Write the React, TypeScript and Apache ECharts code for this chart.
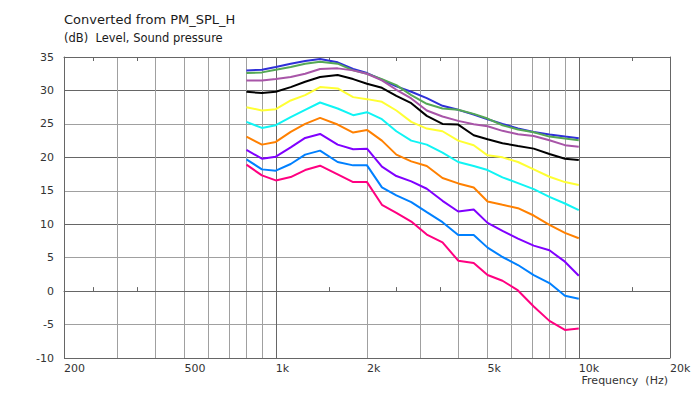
import React, { useEffect, useRef } from "react";
import * as echarts from "echarts";

const FREQS = [800, 900, 1000, 1120, 1250, 1400, 1600, 1800, 2000, 2240, 2500, 2800, 3150, 3550, 4000, 4500, 5000, 5600, 6300, 7100, 8000, 9000, 10000];

const S_BLUE = [33.0, 33.1, 33.5, 34.0, 34.4, 34.7, 34.2, 33.2, 32.6, 31.6, 30.6, 29.8, 28.85, 27.7, 27.1, 26.4, 25.7, 25.0, 24.3, 23.8, 23.4, 23.1, 22.85];
const S_GREEN = [32.6, 32.7, 33.1, 33.5, 34.0, 34.3, 34.0, 33.0, 32.5, 31.7, 30.8, 29.3, 28.0, 27.3, 27.1, 26.5, 25.8, 24.8, 24.15, 23.75, 23.1, 22.8, 22.55];
const S_MAGENTA = [31.5, 31.5, 31.7, 32.0, 32.5, 33.2, 33.3, 33.0, 32.5, 31.5, 30.1, 28.8, 27.0, 26.1, 25.45, 24.95, 24.65, 23.96, 23.46, 23.2, 22.56, 21.82, 21.57];
const S_BLACK = [29.8, 29.6, 29.8, 30.5, 31.3, 32.0, 32.3, 31.7, 31.0, 30.4, 29.2, 28.1, 26.2, 25.0, 24.9, 23.3, 22.7, 22.1, 21.7, 21.3, 20.5, 19.8, 19.6];
const S_YELLOW = [27.5, 27.0, 27.2, 28.5, 29.3, 30.5, 30.3, 29.0, 28.7, 28.3, 27.0, 25.3, 24.3, 23.9, 22.5, 21.8, 20.3, 20.0, 19.3, 18.2, 17.1, 16.3, 15.85];
const S_CYAN = [25.3, 24.4, 24.8, 26.0, 27.1, 28.2, 27.3, 26.3, 26.75, 25.7, 23.9, 22.5, 21.9, 20.7, 19.3, 18.7, 18.1, 17.0, 16.15, 15.25, 14.1, 13.1, 12.1];
const S_ORANGE = [23.1, 21.9, 22.3, 23.8, 25.0, 25.9, 24.9, 23.7, 24.1, 22.5, 20.4, 19.4, 18.7, 16.9, 16.1, 15.5, 13.4, 12.9, 12.4, 11.3, 9.9, 8.7, 7.9];
const S_VIOLET = [21.1, 19.8, 20.1, 21.5, 22.9, 23.5, 21.9, 21.2, 21.3, 18.6, 17.2, 16.4, 15.3, 13.5, 11.9, 12.2, 10.2, 9.0, 7.85, 6.8, 6.1, 4.4, 2.3];
const S_AZURE = [19.7, 18.2, 18.0, 19.0, 20.4, 21.0, 19.3, 18.8, 18.8, 15.5, 14.3, 13.3, 11.8, 10.3, 8.4, 8.4, 6.5, 5.1, 3.9, 2.4, 1.2, -0.7, -1.15];
const S_PINK = [18.9, 17.3, 16.55, 17.05, 18.1, 18.75, 17.45, 16.3, 16.3, 12.9, 11.7, 10.4, 8.45, 7.3, 4.55, 4.2, 2.4, 1.55, 0.1, -2.3, -4.45, -5.8, -5.6];

const SERIES_VALUES = [S_BLUE, S_GREEN, S_MAGENTA, S_BLACK, S_YELLOW, S_CYAN, S_ORANGE, S_VIOLET, S_AZURE, S_PINK];
const SERIES_COLORS = ["#2f2fd8", "#55a855", "#a855a8", "#000000", "#ffff33", "#10f4f4", "#ff8000", "#8000ff", "#0080ff", "#ff0080"];

const X_LABEL_VALUES = [200, 500, 1000, 2000, 5000, 10000, 20000];
const X_LIGHT_GRID = [300, 400, 500, 600, 700, 800, 900, 2000, 3000, 4000, 5000, 6000, 7000, 8000, 9000];
const X_DARK_GRID = [1000, 10000];
const X_MINOR_TICKS = [250, 350, 1500, 2500, 3500, 15000];

const TITLE = "Converted from PM_SPL_H";
const SUBTITLE = "(dB)  Level, Sound pressure";
const X_NAME = "Frequency  (Hz)";

const FONT = "DejaVu Sans";
const DARK = "#666666";
const LIGHT = "#a0a0a0";

export default function App() {
  const ref = useRef<HTMLDivElement>(null);
  useEffect(() => {
    document.body.style.margin = "0";
    const chart = echarts.init(ref.current!, null, { renderer: "svg" });
    const baseLog = {
      type: "log" as const,
      min: 200,
      max: 20000,
      logBase: 10,
      gridIndex: 0,
    };
    const fmt = (v: number) => (v >= 1000 ? `${Math.round(v / 1000)}k` : `${Math.round(v)}`);
    chart.setOption({
      animation: false,
      backgroundColor: "#ffffff",
      grid: {
        left: 64,
        right: 22,
        top: 57,
        bottom: 35,
        show: false,
        containLabel: false,
        outerBoundsMode: "none",
      },
      xAxis: [
        {
          ...baseLog,
          position: "bottom",
          axisLine: { show: true, lineStyle: { color: DARK, width: 1 } },
          axisTick: { show: false, customValues: X_LIGHT_GRID },
          splitLine: { show: true, lineStyle: { color: LIGHT, width: 1 } },
          axisLabel: {
            show: true,
            customValues: X_LABEL_VALUES,
            formatter: fmt,
            align: "left",
            alignMinLabel: "left",
            alignMaxLabel: "left",
            hideOverlap: false,
            margin: 5,
            color: "#333333",
            fontFamily: FONT,
            fontSize: 11,
          },
        },
        {
          ...baseLog,
          position: "bottom",
          axisLine: { show: false },
          axisTick: { show: false, customValues: X_DARK_GRID },
          splitLine: { show: true, lineStyle: { color: DARK, width: 1 } },
          axisLabel: { show: false },
        },
        {
          ...baseLog,
          position: "bottom",
          axisLine: { show: false },
          axisTick: { show: true, inside: true, length: 4, customValues: X_MINOR_TICKS, lineStyle: { color: DARK } },
          splitLine: { show: false },
          axisLabel: { show: false },
        },
        {
          ...baseLog,
          position: "top",
          axisLine: { show: true, lineStyle: { color: DARK, width: 1 } },
          axisTick: { show: true, inside: true, length: 4, customValues: X_MINOR_TICKS, lineStyle: { color: DARK } },
          splitLine: { show: false },
          axisLabel: { show: false },
        },
      ],
      yAxis: [
        {
          type: "value",
          min: -10,
          max: 35,
          interval: 5,
          position: "left",
          axisLine: { show: true, lineStyle: { color: DARK, width: 1 } },
          axisTick: { show: false },
          splitLine: { show: true, lineStyle: { color: LIGHT, width: 1 } },
          axisLabel: { color: "#333333", fontFamily: FONT, fontSize: 11, margin: 10 },
        },
        {
          type: "value",
          min: -10,
          max: 35,
          interval: 10,
          position: "left",
          axisLine: { show: false },
          axisTick: { show: false },
          splitLine: { show: true, lineStyle: { color: DARK, width: 1 } },
          axisLabel: { show: false },
        },
        {
          type: "value",
          min: -10,
          max: 35,
          interval: 5,
          position: "right",
          axisLine: { show: true, lineStyle: { color: DARK, width: 1 } },
          axisTick: { show: false },
          splitLine: { show: false },
          axisLabel: { show: false },
        },
      ],
      series: SERIES_VALUES.map((vals, i) => ({
        type: "line",
        xAxisIndex: 0,
        yAxisIndex: 0,
        showSymbol: false,
        symbol: "none",
        silent: true,
        z: 3,
        lineStyle: { color: SERIES_COLORS[i], width: 2 },
        itemStyle: { color: SERIES_COLORS[i] },
        data: FREQS.map((f, j) => [f, vals[j]]),
      })),
      graphic: [
        {
          type: "text",
          left: 64,
          top: 13,
          style: { text: TITLE, fill: "#1a1a1a", font: `13px "${FONT}"` },
        },
        {
          type: "text",
          left: 64,
          top: 32,
          style: { text: SUBTITLE, fill: "#1a1a1a", font: `11.5px "${FONT}"` },
        },
        {
          type: "text",
          right: 24,
          top: 375,
          style: { text: X_NAME, fill: "#333333", font: `11px "${FONT}"` },
        },
      ],
    });
    return () => chart.dispose();
  }, []);
  return <div ref={ref} style={{ width: 692, height: 393 }} />;
}
